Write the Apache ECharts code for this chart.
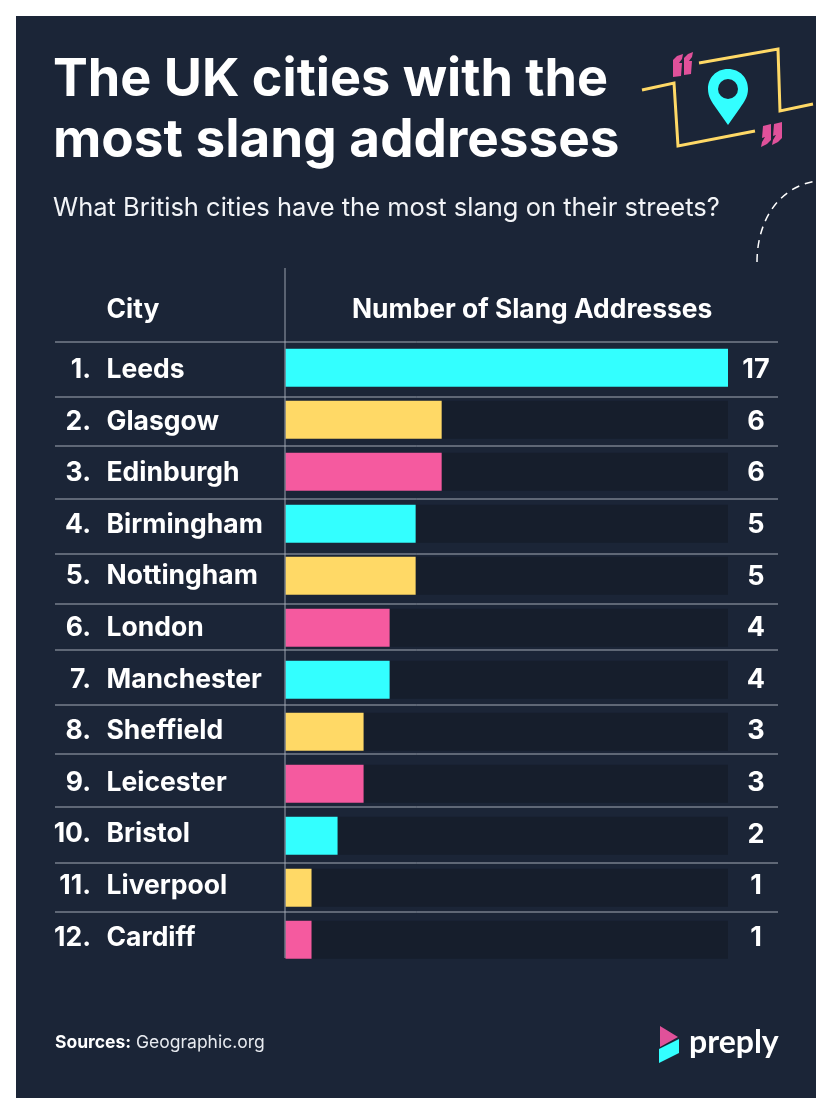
<!DOCTYPE html>
<html><head><meta charset="utf-8">
<style>html,body{margin:0;padding:0;background:#fff}#c{width:832px;height:1114px}</style>
<script src="https://cdn.jsdelivr.net/npm/echarts@6/dist/echarts.min.js"></script>
</head><body><div id="c"></div>
<script>
const ranks=['1.','2.','3.','4.','5.','6.','7.','8.','9.','10.','11.','12.'];
const cities=['Leeds','Glasgow','Edinburgh','Birmingham','Nottingham','London','Manchester','Sheffield','Leicester','Bristol','Liverpool','Cardiff'];
const slangCounts=[17,6,6,5,5,4,4,3,3,2,1,1];
const barColors=['#33ffff','#ffd966','#f55a9f'];
const separatorYs=[342,397,446,499,554,604,650,705,754,807,863,912];
const FONT='Inter';
echarts.graphic.registerShape('pin',echarts.graphic.extendPath('M728 69 C716 69 708 78 708 89 C708 97 712 102 716 108 L728 125 L740 108 C744 102 748 97 748 89 C748 78 740 69 728 69 Z',{}));
const chart=echarts.init(document.getElementById('c'),null,{renderer:'canvas'});
const txt=(x,y,t,size,weight,extra)=>({type:'text',x,y,z:5,style:Object.assign({text:t,fill:'#fff',font:`${weight} ${size}px ${FONT}`,textVerticalAlign:'middle'},extra||{})});
const gline=(pts,color,w,dash)=>({type:'polyline',z:4,shape:{points:pts},style:{stroke:color,lineWidth:w,fill:null,lineDash:dash||null}});
const quote=(x,y)=>[
 {type:'polygon',z:4,shape:{points:[[x,y+4],[x+4,y],[x+10,y-2],[x+9,y+3],[x+6,y+7],[x+9,y+7],[x+8,y+20],[x,y+21]]},style:{fill:'#e0519a'}},
 {type:'polygon',z:4,shape:{points:[[x+11,y+2],[x+15,y-2],[x+20,y-4],[x+19,y+1],[x+16,y+5],[x+19,y+5],[x+18,y+18],[x+11,y+19]]},style:{fill:'#e0519a'}}
];
const quoteEnd=(x,y)=>[
 {type:'polygon',z:4,shape:{points:[[x+10,y+16],[x+6,y+20],[x,y+23],[x+1,y+18],[x+4,y+13],[x+1,y+14],[x+2,y+2],[x+10,y]]},style:{fill:'#e0519a'}},
 {type:'polygon',z:4,shape:{points:[[x+21,y+14],[x+17,y+18],[x+11,y+21],[x+12,y+16],[x+15,y+11],[x+12,y+12],[x+13,y],[x+21,y-2]]},style:{fill:'#e0519a'}}
];
const graphics=[
 {type:'rect',z:-10,shape:{x:16,y:16,width:800,height:1082},style:{fill:'#1b2537'}},
 txt(53,80.5,'The UK cities with the',52.2,700),
 txt(53,141,'most slang addresses',53,700),
 txt(53,208,'What British cities have the most slang on their streets?',25.5,400,{fill:'#f2f4f7'}),
 txt(106.5,310,'City',26.4,700),
 txt(352,310,'Number of Slang Addresses',26.4,700),
 txt(55,1043,'Sources:',17.5,700),
 txt(136,1043,'Geographic.org',17.5,400,{fill:'#e8ebf0'}),
 txt(689,1043,'preply',32,700,{font:'700 32px Lato'}),
 {type:'line',z:4,shape:{x1:285,y1:268,x2:285,y2:958},style:{stroke:'#9aa1ad',lineWidth:1}},
 ...separatorYs.map(y=>({type:'line',z:4,shape:{x1:55,y1:y,x2:778,y2:y},style:{stroke:'#a4abb6',lineWidth:1}})),
 gline([[642,90],[674,83],[678,146],[755,131]],'#ffd966',3),
 gline([[699,63],[778,49],[780,111],[813,104]],'#ffd966',3),
 {type:'pin',z:4,style:{fill:'#33ffff'}},
 {type:'circle',z:5,shape:{cx:728,cy:89,r:10},style:{fill:'#1b2537'}},
 ...quote(673,56),
 ...quoteEnd(761,124),
 {type:'bezierCurve',z:4,shape:{x1:757,y1:262,cpx1:757,cpy1:225,cpx2:775,cpy2:188,x2:816,y2:181},style:{stroke:'#fff',fill:null,lineWidth:1.5,lineDash:[8,6]}},
 {type:'polygon',z:4,shape:{points:[[660,1026],[678,1037],[660,1047]]},style:{fill:'#e0519a'}},
 {type:'polygon',z:4,shape:{points:[[659,1049],[679,1039],[679,1053],[659,1063]]},style:{fill:'#33ffff'}}
];
const labelStyle={color:'#fff',fontSize:26.5,fontWeight:700,fontFamily:FONT};
const textAxis=(data,position,axisLabel)=>({type:'category',gridIndex:1,inverse:true,position,data,axisLine:{show:false},axisTick:{show:false},axisLabel:Object.assign({},labelStyle,axisLabel)});
chart.setOption({
 animation:false,
 backgroundColor:'#fff',
 textStyle:{fontFamily:FONT},
 graphic:graphics,
 grid:[{left:285.5,width:442.5,top:341.7,height:624},{left:286,width:441,top:344.2,height:619.2}],
 xAxis:[{type:'value',min:0,max:17,show:false,gridIndex:0},{type:'value',min:0,max:17,show:false,gridIndex:1}],
 yAxis:[
  {type:'category',gridIndex:0,inverse:true,data:cities,show:false},
  textAxis(ranks,'left',{margin:195,align:'right'}),
  textAxis(cities,'left',{margin:179.5,align:'left'}),
  textAxis(slangCounts.map(String),'right',{margin:29,align:'center',fontSize:27})
 ],
 series:[{type:'bar',xAxisIndex:0,yAxisIndex:0,barWidth:38,
  data:slangCounts.map((v,i)=>({value:v,itemStyle:{color:barColors[i%3]}})),
  showBackground:true,backgroundStyle:{color:'#161e2c'}}]
});
</script></body></html>
